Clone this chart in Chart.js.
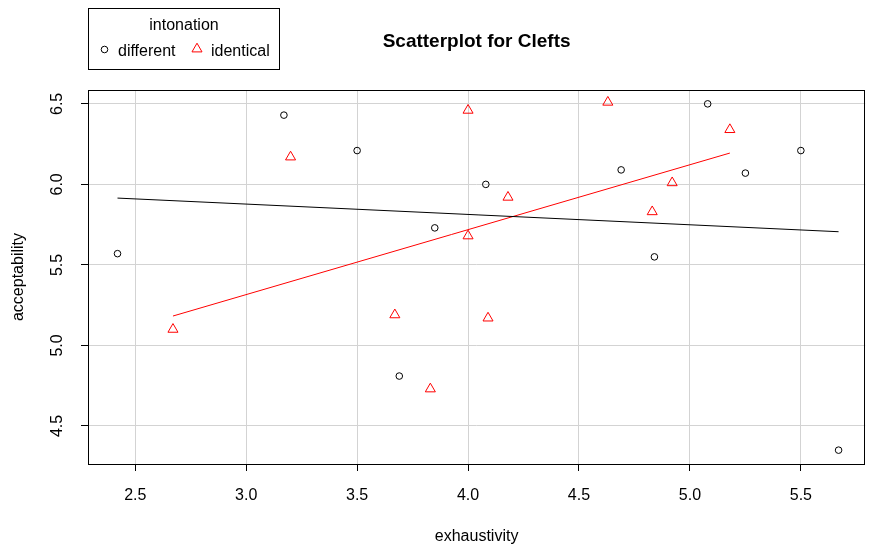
<!DOCTYPE html>
<html>
<head>
<meta charset="utf-8">
<title>Scatterplot for Clefts</title>
<script src="https://cdn.jsdelivr.net/npm/chart.js@4/dist/chart.umd.min.js"></script>
<style>
  html, body { margin: 0; padding: 0; background: #ffffff; }
  #chart { display: block; }
</style>
</head>
<body>
<canvas id="chart" width="872" height="545"></canvas>
<script>
// Exhaustivity vs. acceptability ratings, split by intonation group
const groupNames = ["different", "identical"];

const differentX = [2.42, 3.17, 3.50, 3.85, 3.69, 4.08, 4.69, 4.84, 5.08, 5.25, 5.50, 5.67];
const differentY = [5.57, 6.43, 6.21, 5.73, 4.81, 6.00, 6.09, 5.55, 6.50, 6.07, 6.21, 4.35];

const identicalX = [2.67, 3.20, 3.67, 3.83, 4.00, 4.00, 4.09, 4.18, 4.63, 4.83, 4.92, 5.18];
const identicalY = [5.10, 6.17, 5.19, 4.73, 6.46, 5.68, 5.17, 5.92, 6.51, 5.83, 6.01, 6.34];

const xTicks = [2.5, 3.0, 3.5, 4.0, 4.5, 5.0, 5.5];
const yTicks = [4.5, 5.0, 5.5, 6.0, 6.5];

const titleText = "Scatterplot for Clefts";
const xTitle = "exhaustivity";
const yTitle = "acceptability";
const legendTitle = "intonation";

const FONT = '"Liberation Sans", Arial, Helvetica, sans-serif';

function toPoints(xs, ys) {
  return xs.map((x, i) => ({ x: x, y: ys[i] }));
}

// Ordinary least-squares line, drawn across the group's own x range
function fitLine(xs, ys) {
  const n = xs.length;
  const mx = xs.reduce((a, b) => a + b, 0) / n;
  const my = ys.reduce((a, b) => a + b, 0) / n;
  let sxy = 0, sxx = 0;
  for (let i = 0; i < n; i++) {
    sxy += (xs[i] - mx) * (ys[i] - my);
    sxx += (xs[i] - mx) * (xs[i] - mx);
  }
  const slope = sxy / sxx;
  const lo = Math.min(...xs), hi = Math.max(...xs);
  return [
    { x: lo, y: my + slope * (lo - mx) },
    { x: hi, y: my + slope * (hi - mx) }
  ];
}

function circleMark(ctx, x, y, r, color) {
  ctx.save();
  ctx.strokeStyle = color;
  ctx.lineWidth = 1;
  ctx.beginPath();
  ctx.arc(x, y, r, 0, Math.PI * 2);
  ctx.stroke();
  ctx.restore();
}

function triangleMark(ctx, x, y, r, color) {
  ctx.save();
  ctx.strokeStyle = color;
  ctx.lineWidth = 1;
  ctx.beginPath();
  ctx.moveTo(x, y - r);
  ctx.lineTo(x + r * Math.sin(Math.PI / 3), y + r / 2);
  ctx.lineTo(x - r * Math.sin(Math.PI / 3), y + r / 2);
  ctx.closePath();
  ctx.stroke();
  ctx.restore();
}

const circleRadius = 3.3;
const triangleRadius = 5.8;

// Frame, rotated y labels, titles and legend box
const decorations = {
  id: "decorations",
  afterDraw(chart) {
    const ctx = chart.ctx;
    const area = chart.chartArea;
    const ys = chart.scales.y;

    ctx.save();
    // plot frame
    ctx.strokeStyle = "#000";
    ctx.lineWidth = 1;
    ctx.strokeRect(Math.round(area.left) + 0.5, Math.round(area.top) + 0.5,
                   Math.round(area.right - area.left) - 1, Math.round(area.bottom - area.top));

    ctx.fillStyle = "#000";

    // y tick labels, parallel to the axis
    ctx.font = "16px " + FONT;
    ctx.textAlign = "center";
    ctx.textBaseline = "middle";
    ys.ticks.forEach(t => {
      const py = ys.getPixelForValue(t.value);
      ctx.save();
      ctx.translate(58, py);
      ctx.rotate(-Math.PI / 2);
      ctx.fillText(t.value.toFixed(1), 0, 0);
      ctx.restore();
    });

    // axis titles
    ctx.save();
    ctx.translate(19, (area.top + area.bottom) / 2);
    ctx.rotate(-Math.PI / 2);
    ctx.fillText(yTitle, 0, 0);
    ctx.restore();

    ctx.textBaseline = "alphabetic";
    ctx.fillText(xTitle, (area.left + area.right) / 2, 541);

    // main title
    ctx.font = "bold 19px " + FONT;
    ctx.fillText(titleText, (area.left + area.right) / 2, 47);

    // legend
    ctx.lineWidth = 1;
    ctx.strokeStyle = "#000";
    ctx.strokeRect(88.5, 8.5, 191, 61);
    ctx.font = "16px " + FONT;
    ctx.textAlign = "center";
    ctx.fillText(legendTitle, 184, 29.5);
    ctx.textAlign = "left";
    const ds = chart.data.datasets;
    circleMark(ctx, 104.5, 49.5, circleRadius, ds[0].borderColor);
    ctx.fillText(ds[0].label, 118, 55.5);
    triangleMark(ctx, 197, 49, triangleRadius, ds[1].borderColor);
    ctx.fillText(ds[1].label, 211, 55.5);
    ctx.restore();
  }
};

const gridColor = "#d3d3d3";

new Chart(document.getElementById("chart"), {
  type: "scatter",
  data: {
    datasets: [
      {
        label: groupNames[0],
        data: toPoints(differentX, differentY),
        pointStyle: "circle",
        pointRadius: circleRadius,
        borderColor: "#000000",
        backgroundColor: "rgba(0,0,0,0)",
        borderWidth: 1
      },
      {
        label: groupNames[1],
        data: toPoints(identicalX, identicalY),
        pointStyle: "triangle",
        pointRadius: triangleRadius,
        borderColor: "#ff0000",
        backgroundColor: "rgba(0,0,0,0)",
        borderWidth: 1
      },
      {
        label: groupNames[0] + " fit",
        data: fitLine(differentX, differentY),
        showLine: true,
        pointRadius: 0,
        borderColor: "#000000",
        borderWidth: 1,
        fill: false
      },
      {
        label: groupNames[1] + " fit",
        data: fitLine(identicalX, identicalY),
        showLine: true,
        pointRadius: 0,
        borderColor: "#ff0000",
        borderWidth: 1,
        fill: false
      }
    ]
  },
  options: {
    responsive: false,
    animation: false,
    devicePixelRatio: 1,
    layout: { padding: { top: 90, right: 1, left: 0, bottom: 0 } },
    plugins: {
      legend: { display: false },
      tooltip: { enabled: false },
      title: { display: false }
    },
    scales: {
      x: {
        type: "linear",
        min: 2.287,
        max: 5.79,
        afterBuildTicks: s => { s.ticks = xTicks.map(v => ({ value: v })); },
        afterFit: s => { s.height = 81; },
        border: { display: false },
        grid: { color: gridColor, lineWidth: 1, drawTicks: true, tickLength: 7, tickColor: "#000" },
        ticks: {
          color: "#000",
          font: { family: FONT, size: 16 },
          padding: 15,
          maxRotation: 0,
          autoSkip: false,
          callback: v => Number(v).toFixed(1)
        }
      },
      y: {
        type: "linear",
        min: 4.264,
        max: 6.586,
        afterBuildTicks: s => { s.ticks = yTicks.map(v => ({ value: v })); },
        afterFit: s => { s.width = 88; },
        border: { display: false },
        grid: { color: gridColor, lineWidth: 1, drawTicks: true, tickLength: 7, tickColor: "#000" },
        ticks: { display: false }
      }
    }
  },
  plugins: [decorations]
});
</script>
</body>
</html>
